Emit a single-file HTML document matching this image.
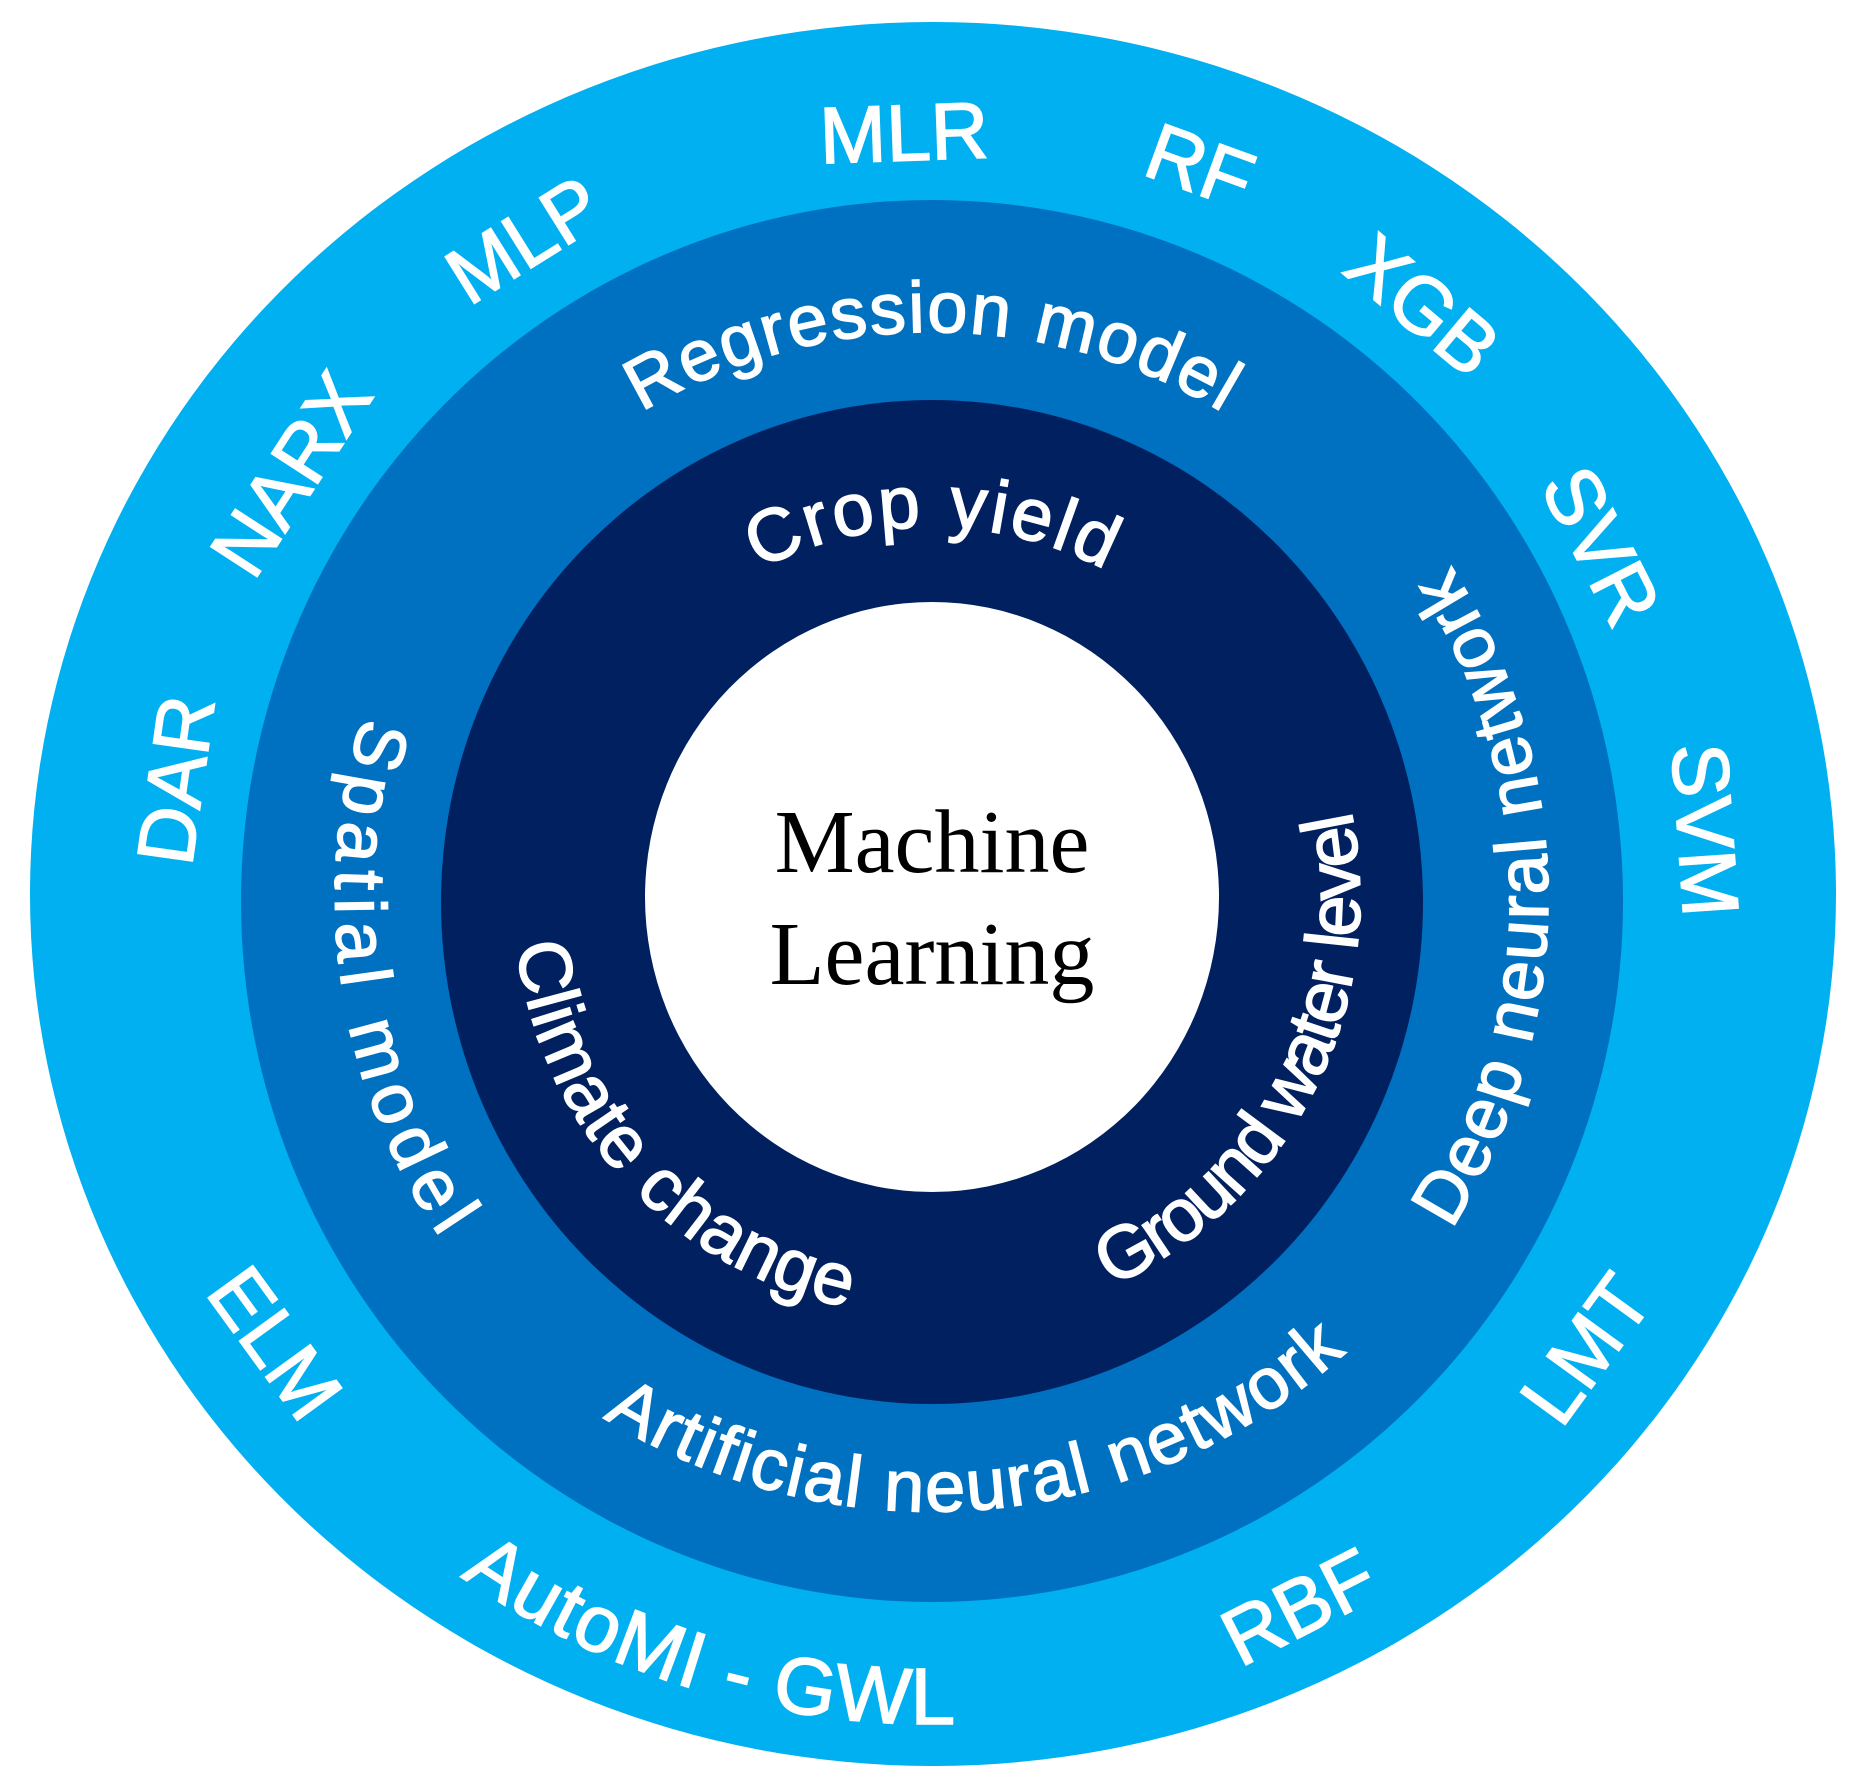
<!DOCTYPE html>
<html>
<head>
<meta charset="utf-8">
<style>
html,body{margin:0;padding:0;background:#fff;}
svg{display:block;}
text{font-family:"Liberation Sans",sans-serif;fill:#fff;}
.w{stroke:#fff;stroke-width:1.6px;}
</style>
</head>
<body>
<svg width="1860" height="1791" viewBox="0 0 1860 1791" xmlns="http://www.w3.org/2000/svg">
<defs>
<path id="pReg" d="M 366 898 A 566 566 0 0 1 1498 898"/>
<path id="pCrop" d="M 561 898 A 371 371 0 0 1 1303 898"/>
<path id="pSpat" d="M 842.6 299.7 A 605 605 0 0 0 1021.4 1496.3"/>
<path id="pArt" d="M 314.4 952.1 A 620 620 0 0 0 1549.6 843.9"/>
<path id="pDeep" d="M 932 1514 A 616 616 0 0 0 932 282"/>
<path id="pClim" d="M 650.1 589.3 A 418 418 0 0 0 1213.9 1206.7"/>
<path id="pGrnd" d="M 739.7 1280.4 A 428 428 0 0 0 1124.3 515.6"/>
<path id="pAuto" d="M 140.4 662 A 826 826 0 0 0 1723.6 1134"/>
</defs>
<rect width="1860" height="1791" fill="#fff"/>
<ellipse cx="933" cy="894" rx="903" ry="872" fill="#00B0F0"/>
<ellipse cx="932" cy="901" rx="691" ry="701" fill="#0070C0"/>
<ellipse cx="932" cy="902" rx="491" ry="502" fill="#002060"/>
<ellipse cx="932" cy="897" rx="287" ry="295" fill="#fff"/>

<g class="w" font-size="80" text-anchor="middle" dominant-baseline="central">
<text transform="translate(904,133) rotate(-2)">MLR</text>
<text transform="translate(1200,166) rotate(20)">RF</text>
<text transform="translate(1423,305) rotate(40)">XGB</text>
<text transform="translate(1601,546) rotate(63)">SVR</text>
<text transform="translate(1705,830) rotate(86)">SVM</text>
<text transform="translate(1586,1349) rotate(-54)">LMT</text>
<text transform="translate(1299,1607) rotate(-27)">RBF</text>
<text transform="translate(275,1343) rotate(54)">ELM</text>
<text transform="translate(176,780) rotate(-82)">DAR</text>
<text transform="translate(291,474) rotate(-57)">NARX</text>
<text transform="translate(524,240) rotate(-32)">MLP</text>
</g>
<text class="w" font-size="80" text-anchor="middle"><textPath href="#pAuto" startOffset="50%" textLength="525" lengthAdjust="spacing">AutoMI - GWL</textPath></text>

<g class="w" font-size="72" text-anchor="middle">
<text><textPath href="#pReg" startOffset="50%" textLength="610" lengthAdjust="spacing">Regression model</textPath></text>
<text><textPath href="#pSpat" startOffset="50%" textLength="545" lengthAdjust="spacing">Spatial model</textPath></text>
<text><textPath href="#pArt" startOffset="50%" textLength="800" lengthAdjust="spacing">Artificial neural network</textPath></text>
<text><textPath href="#pDeep" startOffset="50%" textLength="700" lengthAdjust="spacing">Deep neural network</textPath></text>
</g>

<g class="w" font-size="74" text-anchor="middle">
<text><textPath href="#pCrop" startOffset="50%" textLength="360" lengthAdjust="spacing">Crop yield</textPath></text>
<text><textPath href="#pClim" startOffset="50%" textLength="525" lengthAdjust="spacing">Climate change</textPath></text>
<text><textPath href="#pGrnd" startOffset="50%" textLength="575" lengthAdjust="spacing">Ground water level</textPath></text>
</g>

<g font-size="90" text-anchor="middle">
<text x="932" y="872" style="font-family:'Liberation Serif',serif;fill:#000">Machine</text>
<text x="932" y="984" style="font-family:'Liberation Serif',serif;fill:#000">Learning</text>
</g>
</svg>
</body>
</html>
